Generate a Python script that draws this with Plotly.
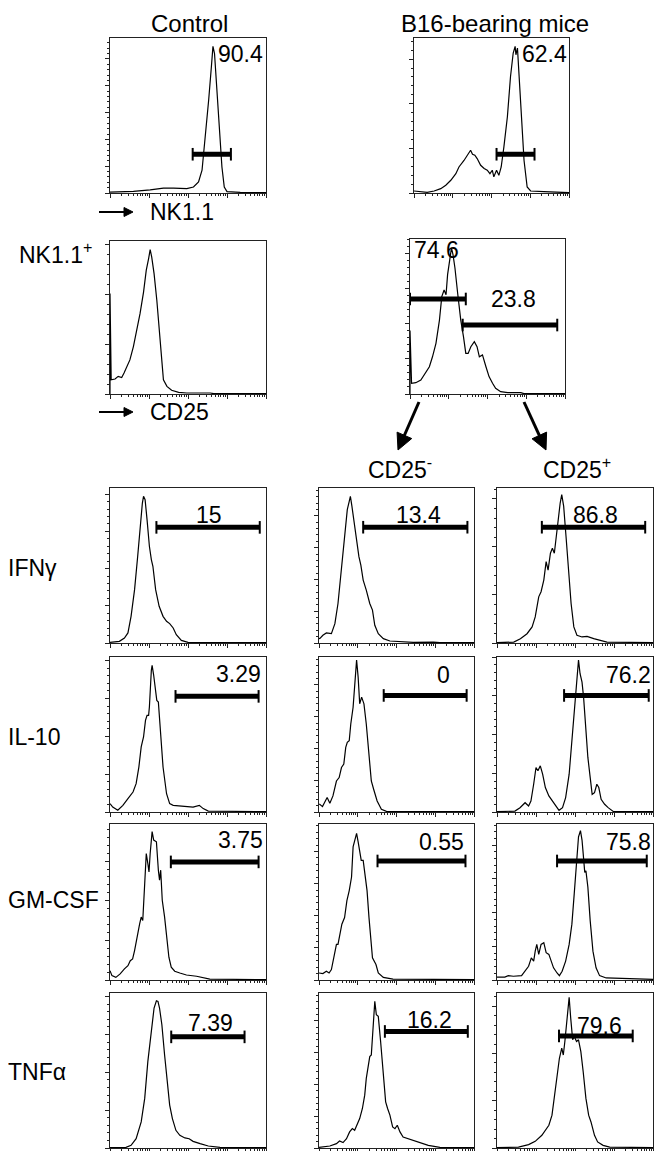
import plotly.graph_objects as go
import numpy as np

# page body has an 8px margin; figure is sized so page is 662x1159
PAGE_W, PAGE_H, OFF = 662, 1159, 8
W, H = PAGE_W - 2 * OFF, PAGE_H - 2 * OFF

# ---------------- data (x = log decades 0..4, y = relative count) ----------------
nk_ctrl = [(0,0.006),(0.6,0.01),(1.03,0.02),(1.37,0.032),(1.63,0.032),(1.97,0.028),(2.14,0.039),(2.27,0.071),
           (2.36,0.147),(2.44,0.34),(2.53,0.6),(2.6,0.816),(2.64,0.946),(2.68,0.9),(2.74,0.687),(2.81,0.384),
           (2.87,0.168),(2.93,0.039),(3.0,0.009),(3.34,0.004),(4,0.002)]
nk_b16 = [(0,0.013),(0.34,0.004),(0.52,0.013),(0.69,0.028),(0.82,0.05),(0.95,0.082),(1.08,0.125),(1.16,0.168),
          (1.29,0.21),(1.39,0.244),(1.46,0.276),(1.51,0.25),(1.57,0.244),(1.63,0.222),(1.72,0.179),(1.81,0.158),
          (1.89,0.147),(1.96,0.125),(2.02,0.147),(2.06,0.104),(2.13,0.147),(2.19,0.114),(2.25,0.168),(2.32,0.298),
          (2.41,0.492),(2.49,0.75),(2.56,0.903),(2.61,0.946),(2.63,0.892),(2.67,0.935),(2.71,0.773),(2.77,0.492),
          (2.84,0.21),(2.92,0.039),(3.01,0.013),(3.35,0.009),(4,0.002)]
cd25_ctrl = [(0,0),(0,0.657),(0.03,0.093),(0.13,0.098),(0.21,0.115),(0.3,0.108),(0.36,0.137),(0.43,0.18),
             (0.51,0.223),(0.6,0.31),(0.69,0.416),(0.77,0.525),(0.86,0.666),(0.93,0.81),(0.99,0.885),(1.03,0.944),
             (1.07,0.895),(1.13,0.787),(1.2,0.614),(1.27,0.42),(1.33,0.223),(1.37,0.093),(1.46,0.05),(1.58,0.024),
             (1.76,0.011),(1.97,0.0065),(2.57,0.0065),(2.66,0.002),(4,0.002)]
cd25_b16 = [(0,0),(0,0.41),(0.04,0.069),(0.15,0.073),(0.28,0.09),(0.41,0.144),(0.5,0.176),(0.58,0.24),
            (0.67,0.327),(0.76,0.477),(0.82,0.628),(0.88,0.671),(0.93,0.64),(0.97,0.77),(1.04,0.91),(1.07,0.942),
            (1.11,0.899),(1.16,0.813),(1.23,0.65),(1.31,0.477),(1.38,0.37),(1.44,0.262),(1.5,0.262),(1.57,0.305),
            (1.66,0.338),(1.73,0.305),(1.79,0.24),(1.87,0.252),(1.96,0.176),(2.04,0.112),(2.13,0.069),(2.21,0.037),
            (2.34,0.015),(2.52,0.009),(2.86,0.009),(2.94,0.002),(4,0.002)]
ifng_ctrl = [(0,0.004),(0.24,0.011),(0.37,0.032),(0.46,0.065),(0.54,0.172),(0.63,0.344),(0.71,0.56),(0.77,0.753),
             (0.83,0.903),(0.86,0.946),(0.9,0.925),(0.95,0.796),(1.01,0.624),(1.06,0.538),(1.1,0.495),(1.17,0.344),
             (1.26,0.237),(1.36,0.172),(1.45,0.14),(1.53,0.125),(1.62,0.097),(1.7,0.054),(1.83,0.017),(2.0,0.004),(4,0.002)]
ifng_neg = [(0,0.03),(0.02,0.028),(0.1,0.05),(0.19,0.065),(0.32,0.06),(0.41,0.125),(0.49,0.255),(0.58,0.47),
            (0.66,0.687),(0.73,0.86),(0.78,0.914),(0.81,0.946),(0.85,0.881),(0.92,0.752),(0.99,0.622),(1.03,0.557),
            (1.08,0.503),(1.14,0.406),(1.22,0.341),(1.31,0.255),(1.38,0.212),(1.44,0.114),(1.53,0.06),(1.66,0.028),
            (1.83,0.013),(2.09,0.011),(2.43,0.004),(2.95,0.006),(3.12,0.002),(4,0.002)]
ifng_pos = [(0,0.002),(0.43,0.006),(0.6,0.028),(0.77,0.06),(0.9,0.104),(0.98,0.168),(1.07,0.298),(1.13,0.331),
            (1.2,0.406),(1.26,0.525),(1.31,0.47),(1.37,0.579),(1.42,0.611),(1.47,0.579),(1.52,0.687),(1.58,0.838),
            (1.62,0.903),(1.66,0.957),(1.71,0.881),(1.77,0.687),(1.84,0.47),(1.9,0.255),(1.97,0.104),(2.05,0.05),
            (2.18,0.039),(2.31,0.043),(2.48,0.028),(2.65,0.017),(2.82,0.006),(4,0.002)]
il10_ctrl = [(0,0.054),(0.07,0.032),(0.2,0.011),(0.33,0.043),(0.46,0.086),(0.59,0.129),(0.67,0.183),(0.74,0.29),
             (0.8,0.42),(0.86,0.484),(0.91,0.591),(0.95,0.624),(0.99,0.624),(1.01,0.677),(1.06,0.914),(1.08,0.946),
             (1.12,0.882),(1.16,0.785),(1.2,0.72),(1.24,0.71),(1.29,0.527),(1.36,0.29),(1.45,0.118),(1.53,0.054),
             (1.62,0.043),(1.79,0.039),(1.96,0.032),(2.13,0.032),(2.29,0.043),(2.39,0.022),(2.52,0.006),(4,0.002)]
il10_neg = [(0,0.05),(0.02,0.05),(0.09,0.035),(0.15,0.06),(0.21,0.093),(0.28,0.056),(0.36,0.104),(0.45,0.2),
            (0.52,0.222),(0.58,0.287),(0.64,0.309),(0.69,0.417),(0.73,0.45),(0.78,0.46),(0.82,0.568),(0.88,0.676),
            (0.92,0.806),(0.97,0.98),(1.01,0.87),(1.05,0.698),(1.1,0.741),(1.16,0.698),(1.22,0.568),(1.29,0.374),
            (1.35,0.2),(1.41,0.147),(1.5,0.071),(1.61,0.017),(1.74,0.004),(4,0.002)]
il10_pos = [(0,0.002),(0.46,0.006),(0.59,0.028),(0.72,0.06),(0.81,0.039),(0.87,0.071),(0.94,0.179),(1.0,0.287),
            (1.05,0.266),(1.11,0.298),(1.17,0.244),(1.24,0.158),(1.33,0.104),(1.42,0.071),(1.5,0.039),(1.59,0.011),
            (1.68,0.028),(1.76,0.093),(1.85,0.244),(1.92,0.46),(1.98,0.611),(2.02,0.78),(2.07,0.935),(2.09,0.98),
            (2.13,0.892),(2.18,0.838),(2.22,0.741),(2.27,0.568),(2.33,0.352),(2.39,0.222),(2.44,0.114),(2.5,0.125),
            (2.56,0.179),(2.61,0.158),(2.67,0.082),(2.76,0.05),(2.85,0.028),(2.98,0.004),(4,0.002)]
gm_ctrl = [(0,0.06),(0.05,0.028),(0.15,0.017),(0.26,0.039),(0.37,0.071),(0.46,0.092),(0.52,0.124),(0.58,0.135),
           (0.63,0.189),(0.69,0.275),(0.76,0.36),(0.8,0.403),(0.84,0.382),(0.89,0.618),(0.93,0.811),(0.97,0.747),
           (1.0,0.693),(1.03,0.811),(1.08,0.951),(1.12,0.897),(1.19,0.886),(1.24,0.704),(1.27,0.64),(1.3,0.704),
           (1.34,0.511),(1.4,0.403),(1.46,0.253),(1.51,0.146),(1.57,0.082),(1.66,0.056),(1.79,0.045),(1.96,0.032),
           (2.22,0.024),(2.39,0.017),(2.56,0.006),(4,0.002)]
gm_neg = [(0,0.045),(0.02,0.045),(0.1,0.041),(0.19,0.056),(0.26,0.045),(0.32,0.067),(0.38,0.142),(0.45,0.228),
          (0.49,0.228),(0.53,0.272),(0.59,0.358),(0.66,0.4),(0.72,0.509),(0.78,0.573),(0.84,0.66),(0.88,0.853),
          (0.92,0.886),(0.97,0.94),(1.01,0.886),(1.05,0.832),(1.09,0.767),(1.14,0.767),(1.18,0.69),(1.24,0.573),
          (1.29,0.4),(1.34,0.228),(1.38,0.142),(1.47,0.099),(1.53,0.045),(1.66,0.017),(1.91,0.006),(4,0.002)]
gm_pos = [(0,0.019),(0.2,0.019),(0.29,0.028),(0.42,0.024),(0.63,0.028),(0.72,0.056),(0.81,0.088),(0.88,0.142),
          (0.94,0.121),(0.98,0.185),(1.02,0.228),(1.07,0.164),(1.13,0.228),(1.2,0.239),(1.26,0.175),(1.33,0.164),
          (1.39,0.121),(1.45,0.078),(1.54,0.045),(1.6,0.028),(1.67,0.056),(1.76,0.121),(1.85,0.228),(1.92,0.358),
          (1.98,0.552),(2.04,0.767),(2.09,0.918),(2.14,0.957),(2.18,0.897),(2.21,0.81),(2.25,0.69),(2.28,0.7),
          (2.33,0.595),(2.39,0.379),(2.46,0.185),(2.54,0.078),(2.63,0.028),(2.8,0.013),(3.15,0.009),(4,0.004)]
tnf_ctrl = [(0,0.002),(0.41,0.004),(0.54,0.017),(0.67,0.06),(0.8,0.168),(0.89,0.32),(0.97,0.557),(1.06,0.773),
            (1.13,0.903),(1.19,0.95),(1.23,0.946),(1.27,0.903),(1.33,0.795),(1.4,0.6),(1.46,0.428),(1.53,0.277),
            (1.6,0.19),(1.69,0.114),(1.79,0.082),(1.92,0.065),(2.03,0.06),(2.13,0.043),(2.31,0.028),(2.52,0.013),
            (2.82,0.004),(4,0.002)]
tnf_neg = [(0,0.004),(0.28,0.013),(0.45,0.028),(0.53,0.045),(0.62,0.035),(0.71,0.06),(0.79,0.104),(0.86,0.125),
           (0.92,0.114),(0.98,0.147),(1.05,0.19),(1.12,0.255),(1.18,0.341),(1.22,0.449),(1.27,0.536),(1.31,0.59),
           (1.35,0.6),(1.4,0.795),(1.44,0.946),(1.48,0.86),(1.53,0.849),(1.59,0.687),(1.66,0.47),(1.72,0.298),
           (1.77,0.255),(1.83,0.212),(1.9,0.136),(1.96,0.125),(2.02,0.147),(2.09,0.104),(2.17,0.071),(2.3,0.06),
           (2.43,0.05),(2.6,0.032),(2.82,0.017),(3.12,0.004),(4,0.002)]
tnf_pos = [(0,0.002),(0.55,0.006),(0.81,0.022),(0.98,0.043),(1.15,0.082),(1.33,0.147),(1.41,0.212),(1.48,0.341),
           (1.54,0.47),(1.6,0.579),(1.66,0.644),(1.7,0.6),(1.74,0.687),(1.8,0.838),(1.85,0.972),(1.89,0.838),
           (1.94,0.698),(1.98,0.72),(2.04,0.687),(2.09,0.698),(2.15,0.622),(2.21,0.492),(2.28,0.32),(2.35,0.212),
           (2.41,0.168),(2.5,0.082),(2.58,0.039),(2.72,0.017),(2.89,0.006),(4,0.002)]

# gates: (start decade, end decade, level) and their percentage labels
gate_nk_ctrl = (2.12, 3.1, 0.25);   pct_nk_ctrl = "90.4"
gate_nk_b16 = (2.13, 3.11, 0.25);   pct_nk_b16 = "62.4"
gate_cd25_neg = (0.0, 1.44, 0.613); pct_cd25_neg = "74.6"
gate_cd25_pos = (1.36, 3.8, 0.445); pct_cd25_pos = "23.8"
gates_ifng = [(1.19, 3.84, 0.746), (1.14, 3.83, 0.747), (1.15, 3.8, 0.747)]
pcts_ifng = ["15", "13.4", "86.8"]
gates_il10 = [(1.68, 3.81, 0.746), (1.67, 3.81, 0.752), (1.72, 3.89, 0.752)]
pcts_il10 = ["3.29", "0", "76.2"]
gates_gm = [(1.56, 3.81, 0.757), (1.51, 3.78, 0.763), (1.54, 3.84, 0.763)]
pcts_gm = ["3.75", "0.55", "75.8"]
gates_tnf = [(1.57, 3.45, 0.717), (1.7, 3.84, 0.752), (1.59, 3.48, 0.723)]
pcts_tnf = ["7.39", "16.2", "79.6"]

column_titles = ["Control", "B16-bearing mice"]
row_labels = ["IFN\u03b3", "IL-10", "GM-CSF", "TNF\u03b1"]

# ---------------- layout (page pixel boxes: left, right, top, bottom) ----------------
FONT = "Liberation Sans, Arial, sans-serif"
colA = (110, 266); colB = (319, 474); colC = (497, 653)
rows = [(488, 643), (657, 812), (824, 980), (993, 1148)]
row_label_y = [568, 737, 900, 1072]

def fx(px):
    return (px - OFF) / W

def fy(py):
    return 1 - (py - OFF) / H

panels = []
panels.append((nk_ctrl, (110, 266, 38, 193), 0.173, [gate_nk_ctrl], [(pct_nk_ctrl, 3.98, 0.896, "right")]))
panels.append((nk_b16, (414, 569, 38, 193), 0.288, [gate_nk_b16], [(pct_nk_b16, 4.0, 0.896, "right")]))
panels.append((cd25_ctrl, (110, 266, 241, 394), 0.326, [], []))
panels.append((cd25_b16, (410, 565, 239, 394), 0.226, [gate_cd25_neg, gate_cd25_pos],
               [(pct_cd25_neg, 0.05, 0.93, "left"), (pct_cd25_pos, 2.66, 0.613, "center")]))

row_curves = [(ifng_ctrl, ifng_neg, ifng_pos), (il10_ctrl, il10_neg, il10_pos),
              (gm_ctrl, gm_neg, gm_pos), (tnf_ctrl, tnf_neg, tnf_pos)]
row_gates = [gates_ifng, gates_il10, gates_gm, gates_tnf]
row_pcts = [pcts_ifng, pcts_il10, pcts_gm, pcts_tnf]
label_pos = [[(2.54, 0.828), (2.58, 0.827), (2.52, 0.827)],
             [(3.29, 0.892), (3.22, 0.881), (3.37, 0.881)],
             [(3.34, 0.897), (3.16, 0.886), (3.37, 0.886)],
             [(2.58, 0.806), (2.84, 0.827), (2.63, 0.79)]]
steps = [[0.24, 0.205, 0.31], [0.244, 0.205, 0.25], [0.254, 0.206, 0.216], [0.244, 0.205, 0.305]]
for r, (t, b) in enumerate(rows):
    for c, col in enumerate([colA, colB, colC]):
        lx, ly = label_pos[r][c]
        panels.append((row_curves[r][c], (col[0], col[1], t, b), steps[r][c],
                       [row_gates[r][c]], [(row_pcts[r][c], lx, ly, "center")]))

fig = go.Figure()
minor_x = [d + np.log10(k) for d in range(4) for k in range(2, 10)]
annotations = []
shapes = []

for i, (curve, box, step, gates, labels) in enumerate(panels, start=1):
    l, rgt, t, b = box
    xa = "x" if i == 1 else f"x{i}"
    ya = "y" if i == 1 else f"y{i}"
    xs = [p[0] for p in curve]
    ys = [p[1] for p in curve]
    fig.add_trace(go.Scatter(x=xs, y=ys, mode="lines", line=dict(color="black", width=1.2),
                             xaxis=xa, yaxis=ya, showlegend=False, hoverinfo="skip"))
    for (g0, g1, lvl) in gates:
        fig.add_trace(go.Scatter(x=[g0, g1], y=[lvl, lvl], mode="lines+markers",
                                 line=dict(color="black", width=5),
                                 marker=dict(symbol="line-ns", size=9, line=dict(color="black", width=2)),
                                 xaxis=xa, yaxis=ya, showlegend=False, hoverinfo="skip", cliponaxis=False))
    for (txt, lx, ly, anc) in labels:
        annotations.append(dict(text=txt, x=lx, y=ly, xref=xa, yref=ya, xanchor=anc, yanchor="middle",
                                showarrow=False, font=dict(family=FONT, size=23, color="black")))
    axkey = "xaxis" if i == 1 else f"xaxis{i}"
    aykey = "yaxis" if i == 1 else f"yaxis{i}"
    fig.layout[axkey] = dict(domain=[fx(l), fx(rgt)], range=[0, 4], anchor=ya, showgrid=False, zeroline=False,
                             showline=True, linecolor="#222", linewidth=1, mirror=True, ticks="outside",
                             tickmode="array", tickvals=[0, 1, 2, 3, 4], ticklen=4, tickcolor="#222",
                             showticklabels=False, fixedrange=True,
                             minor=dict(tickmode="array", tickvals=minor_x, ticklen=2, ticks="outside",
                                        tickcolor="#222", showgrid=False))
    fig.layout[aykey] = dict(domain=[fy(b), fy(t)], range=[0, 1], anchor=xa, showgrid=False,
                             zeroline=False, showline=True, linecolor="#222", linewidth=1, mirror=True,
                             ticks="outside", tick0=0, dtick=step, ticklen=4, tickcolor="#222",
                             showticklabels=False, fixedrange=True,
                             minor=dict(tick0=0, dtick=step / 5, ticklen=2, ticks="outside",
                                        tickcolor="#222", showgrid=False))

def ptext(txt, px, py, anchor="center", size=23, yanchor="middle"):
    annotations.append(dict(text=txt, x=fx(px), y=fy(py), xref="paper", yref="paper",
                            xanchor=anchor, yanchor=yanchor, showarrow=False,
                            font=dict(family=FONT, size=size, color="black")))

def parrow(x0, y0, x1, y1, width, head_len, head_w):
    dx, dy = x1 - x0, y1 - y0
    n = (dx * dx + dy * dy) ** 0.5
    ux, uy = dx / n, dy / n
    bx, by = x1 - ux * head_len, y1 - uy * head_len
    shapes.append(dict(type="line", xref="paper", yref="paper", x0=fx(x0), y0=fy(y0),
                       x1=fx(bx + ux), y1=fy(by + uy), line=dict(color="black", width=width)))
    px_, py_ = -uy, ux
    pts = [(x1, y1), (bx + px_ * head_w, by + py_ * head_w), (bx - px_ * head_w, by - py_ * head_w)]
    path = "M " + " L ".join(f"{fx(a):.5f},{fy(c):.5f}" for a, c in pts) + " Z"
    shapes.append(dict(type="path", xref="paper", yref="paper", path=path,
                       fillcolor="black", line=dict(color="black", width=1)))

ptext(column_titles[0], 190, 8, size=24, yanchor="top")
ptext(column_titles[1], 495, 8, size=24, yanchor="top")
parrow(99, 212, 133, 212, 2, 9, 4.5)
ptext("NK1.1", 148, 212, "left")
ptext("NK1.1<sup>+</sup>", 17, 253, "left")
parrow(99, 412, 133, 412, 2, 9, 4.5)
ptext("CD25", 148, 412, "left")
parrow(419, 402, 398, 450, 3, 16, 8)
parrow(524, 402, 546, 450, 3, 16, 8)
ptext("CD25<sup>-</sup>", 400, 468)
ptext("CD25<sup>+</sup>", 577, 468)
for lbl, ly in zip(row_labels, row_label_y):
    ptext(lbl, 6, ly, "left")

fig.update_layout(width=W, height=H, margin=dict(l=0, r=0, t=0, b=0), paper_bgcolor="white",
                  plot_bgcolor="white", annotations=annotations, shapes=shapes, showlegend=False)
fig.write_html("out.html")
